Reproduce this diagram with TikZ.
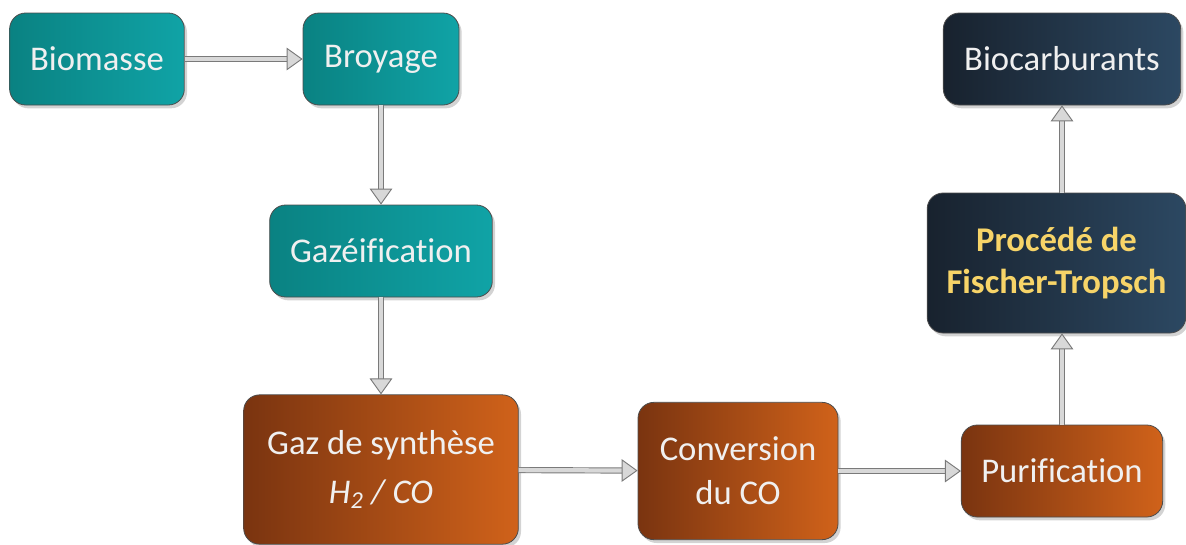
\documentclass[tikz,border=0pt]{standalone}
\usepackage{fontspec}
\setmainfont[Ligatures=NoCommon]{Carlito}
\usetikzlibrary{positioning, arrows.meta, shadows}
\definecolor{tealdark}{HTML}{0A8282}
\definecolor{teallight}{HTML}{10A3A6}
\definecolor{rustdark}{HTML}{7A3410}
\definecolor{rustlight}{HTML}{D0621A}
\definecolor{navydark}{HTML}{18222E}
\definecolor{navylight}{HTML}{2C4862}
\definecolor{fttext}{HTML}{F7D468}
\definecolor{arrowgray}{HTML}{7A7A7A}
\definecolor{arrowfill}{HTML}{D8D8D8}

\begin{document}
\begin{tikzpicture}[x=0.75pt, y=-0.75pt,
    box/.style={draw=black!70, line width=0.6pt, rounded corners=12pt,
      text=white!94!black, font=\fontsize{26}{31}\selectfont, align=center,
      inner sep=0pt,
      drop shadow={opacity=0.35, shadow xshift=2pt, shadow yshift=-2.5pt}},
    tealbox/.style={box, left color=tealdark, right color=teallight},
    rustbox/.style={box, left color=rustdark, right color=rustlight},
    navybox/.style={box, left color=navydark, right color=navylight},
    flow/.style={draw=arrowgray, line width=0.7pt, double=arrowfill,
      double distance=3.2pt,
      -{Triangle[length=12pt, width=17pt, fill=arrowfill, line width=0.7pt]}}]

  \useasboundingbox (0,0) rectangle (1186,544);

  % first stage
  \node[tealbox, minimum width=131pt, minimum height=69pt] (biomasse) at (97,59) {Biomasse};
  \node[tealbox, minimum width=117pt, minimum height=69pt] (broyage) at (381,59) {Broyage};
  \node[tealbox, minimum width=167pt, minimum height=69pt] (gazeif) at (381,251) {Gazéification};

  % syngas treatment
  \node[rustbox, minimum width=206pt, minimum height=112pt] (syngas) at (381,469.5)
    {Gaz de synthèse\\[6pt]{\itshape H\textsubscript{2} / CO}};
  \node[rustbox, minimum width=150pt, minimum height=103pt] (conversion) at (738,471)
    {Conversion\\[2pt]du CO};
  \node[rustbox, minimum width=151pt, minimum height=69pt] (purif) at (1062,471) {Purification};

  % synthesis
  \node[navybox, minimum width=194pt, minimum height=105pt, text=fttext,
        font=\fontsize{26}{31}\selectfont\bfseries] (ft) at (1056.5,263)
    {Procédé de\\Fischer-Tropsch};
  \node[navybox, minimum width=178pt, minimum height=69pt] (biocarb) at (1062,59) {Biocarburants};

  \draw[flow] (biomasse) -- (broyage);
  \draw[flow] (broyage) -- (gazeif);
  \draw[flow] (gazeif) -- (syngas);
  \draw[flow] (syngas) -- (conversion);
  \draw[flow] (conversion) -- (purif);
  \draw[flow] (purif.north) -- (purif.north |- ft.south);
  \draw[flow] (biocarb.south |- ft.north) -- (biocarb.south);
\end{tikzpicture}
\end{document}
